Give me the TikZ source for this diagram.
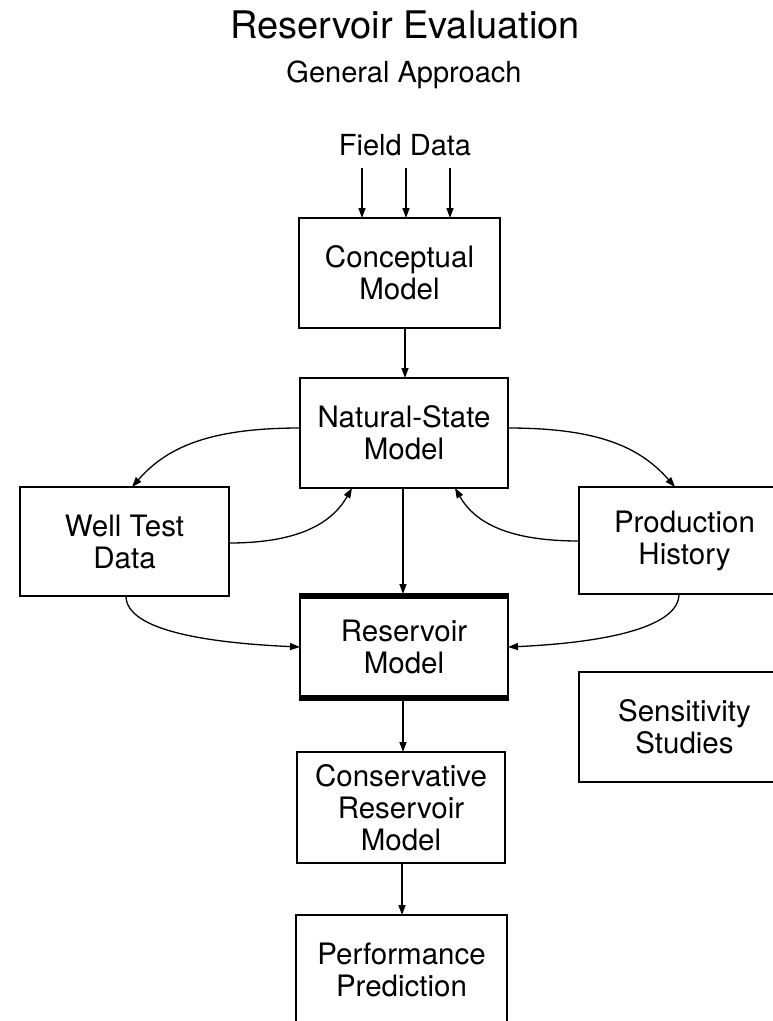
\documentclass[tikz,border=0pt]{standalone}
\usepackage{fontspec}
\setmainfont{TeX Gyre Heros}
\usetikzlibrary{arrows.meta}
\begin{document}
\begin{tikzpicture}[x=1pt,y=1pt,
  box/.style={draw, line width=1.4pt, rectangle, inner sep=0pt, outer sep=0pt,
    align=center, font=\fontsize{29.5}{32}\selectfont},
  conn/.style={line width=1.3pt, -{Triangle[length=10pt,width=7pt]}},
  bar/.style={line width=6pt}]
\useasboundingbox (0,0) rectangle (773,-1021);
\begin{scope}
\clip (0,0) rectangle (773,-1021);
% titles
\node[anchor=base, font=\fontsize{38}{44}\selectfont] (title) at (405,-38) {Reservoir Evaluation};
\node[anchor=base, font=\fontsize{29}{34}\selectfont] (sub) at (404,-82) {General Approach};
\node[anchor=base, font=\fontsize{29}{34}\selectfont] (field) at (405,-155) {Field Data};
% boxes
\node[box, minimum width=201, minimum height=110] (concept) at (399.5,-273) {Conceptual\\Model};
\node[box, minimum width=208, minimum height=110] (ns) at (404,-433) {Natural-State\\Model};
\node[box, minimum width=209, minimum height=109] (well) at (124.5,-541.5) {Well Test\\Data};
\node[box, minimum width=211, minimum height=107] (prod) at (684.5,-540.5) {Production\\History};
\node[box, minimum width=208, minimum height=106] (res) at (404,-647) {Reservoir\\Model};
\node[box, minimum width=211, minimum height=110] (sens) at (684.5,-727) {Sensitivity\\Studies};
\node[box, minimum width=208, minimum height=111] (cons) at (401,-807.5) {Conservative\\Reservoir\\Model};
\node[box, minimum width=211, minimum height=110] (perf) at (401.5,-970) {Performance\\Prediction};
% thick bars of the reservoir model
\draw[bar] ([yshift=-2pt]res.north west) -- ([yshift=-2pt]res.north east);
\draw[bar] ([yshift=2pt]res.south west) -- ([yshift=2pt]res.south east);
% field data arrows
\coordinate (f1) at (362,-168);
\coordinate (f2) at (406,-168);
\coordinate (f3) at (450,-168);
\draw[conn] (f1) -- (f1 |- concept.north);
\draw[conn] (f2) -- (f2 |- concept.north);
\draw[conn] (f3) -- (f3 |- concept.north);
% vertical chain
\draw[conn] (concept.south -| 405,0) -- (ns.north -| 405,0);
\draw[conn] (ns.south -| 403,0) -- (res.north -| 403,0);
\draw[conn] (res.south -| 403,0) -- (cons.north -| 403,0);
\draw[conn] (cons.south -| 402,0) -- (perf.north -| 402,0);
% curved loops
\draw[conn] (ns.west |- 0,-428) .. controls +(-90,0) and +(35,40) .. (well.north -| 132,0);
\draw[conn] (well.east |- 0,-543) .. controls +(70,0) and +(-20,-35) .. (ns.south -| 352,0);
\draw[conn] (well.south -| 126,0) .. controls +(0,-35) and +(-90,4) .. (res.west |- 0,-647);
\draw[conn] (ns.east |- 0,-428) .. controls +(90,0) and +(-35,40) .. (prod.north -| 675,0);
\draw[conn] (prod.west |- 0,-541) .. controls +(-70,0) and +(20,-35) .. (ns.south -| 455,0);
\draw[conn] (prod.south -| 679,0) .. controls +(0,-35) and +(90,4) .. (res.east |- 0,-647);
\end{scope}
\end{tikzpicture}
\end{document}
